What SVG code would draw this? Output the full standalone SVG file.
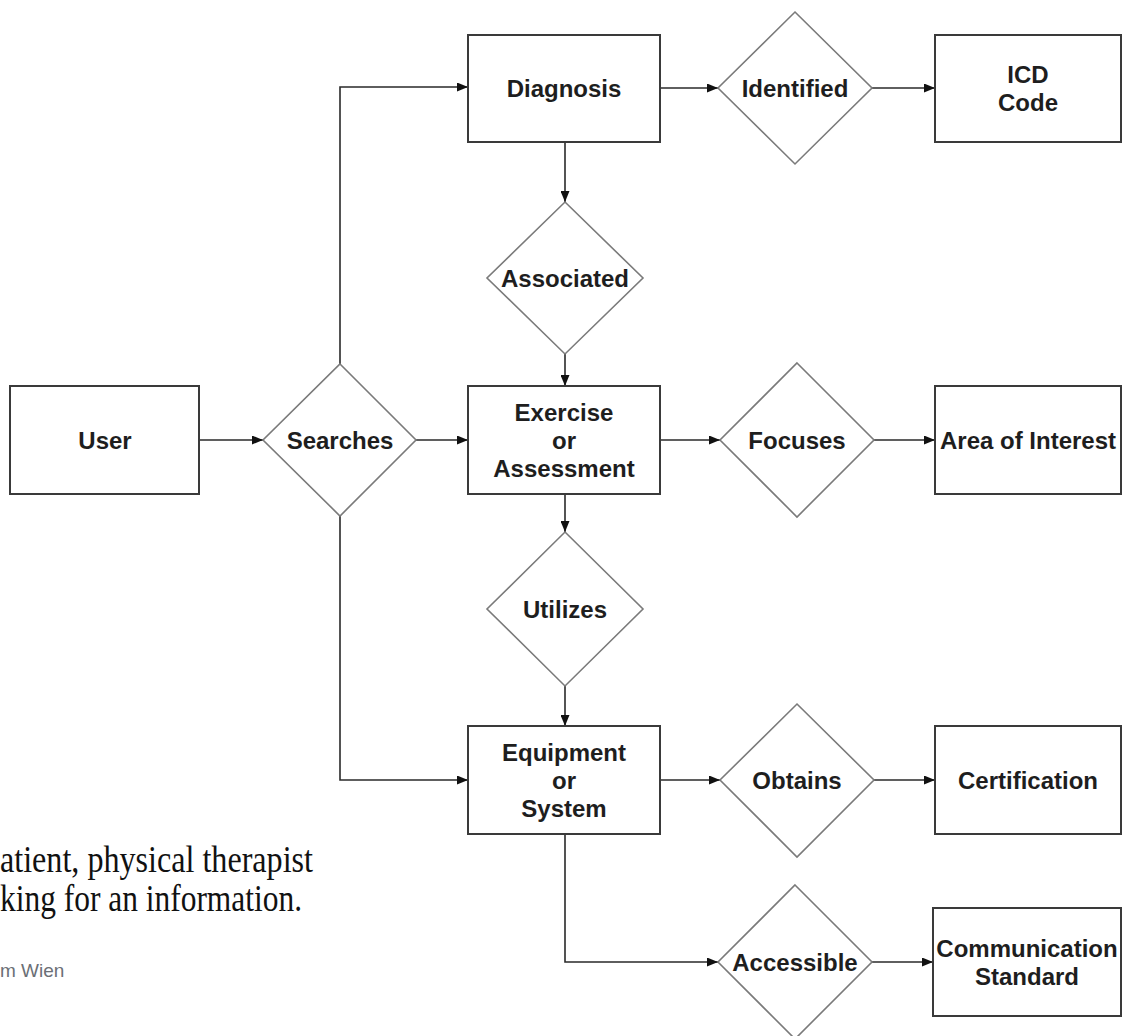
<svg xmlns="http://www.w3.org/2000/svg" width="1124" height="1036" viewBox="0 0 1124 1036">
<style>
.box{fill:#fff;stroke:#3a3a3a;stroke-width:2}
.dia{fill:#fff;stroke:#7a7a7a;stroke-width:1.6}
.lbl{font-family:"Liberation Sans",Arial,sans-serif;font-weight:bold;font-size:24px;fill:#1e1e1e;text-anchor:middle;dominant-baseline:central}
.edge{fill:none;stroke:#2a2a2a;stroke-width:1.6}
.cap{font-family:"Liberation Serif","Times New Roman",serif;font-size:37px;fill:#111}
.src{font-family:"Liberation Sans",Arial,sans-serif;font-size:19px;fill:#6b6f76}
</style>
<defs>
<marker id="arr" markerWidth="11" markerHeight="9" refX="11" refY="4.5" orient="auto" markerUnits="userSpaceOnUse">
<path d="M0,0 L11,4.5 L0,9 z" fill="#111"/>
</marker>
</defs>
<rect width="1124" height="1036" fill="#fff"/>

<g id="connectors">
<line class="edge" x1="199" y1="440" x2="263" y2="440" marker-end="url(#arr)"/>
<line class="edge" x1="416" y1="440" x2="468" y2="440" marker-end="url(#arr)"/>
<polyline class="edge" points="340,364 340,87 468,87" marker-end="url(#arr)"/>
<polyline class="edge" points="340,516 340,780 468,780" marker-end="url(#arr)"/>
<line class="edge" x1="660" y1="88" x2="718" y2="88" marker-end="url(#arr)"/>
<line class="edge" x1="872" y1="88" x2="935" y2="88" marker-end="url(#arr)"/>
<line class="edge" x1="565" y1="142" x2="565" y2="202" marker-end="url(#arr)"/>
<line class="edge" x1="565" y1="354" x2="565" y2="386" marker-end="url(#arr)"/>
<line class="edge" x1="660" y1="440" x2="720" y2="440" marker-end="url(#arr)"/>
<line class="edge" x1="874" y1="440" x2="935" y2="440" marker-end="url(#arr)"/>
<line class="edge" x1="565" y1="494" x2="565" y2="532" marker-end="url(#arr)"/>
<line class="edge" x1="565" y1="686" x2="565" y2="726" marker-end="url(#arr)"/>
<line class="edge" x1="660" y1="780" x2="720" y2="780" marker-end="url(#arr)"/>
<line class="edge" x1="874" y1="780" x2="935" y2="780" marker-end="url(#arr)"/>
<polyline class="edge" points="565,834 565,962 718,962" marker-end="url(#arr)"/>
<line class="edge" x1="872" y1="962" x2="933" y2="962" marker-end="url(#arr)"/>
</g>

<g id="user"><rect class="box" x="10" y="386" width="189" height="108"/><text class="lbl" x="105" y="440">User</text></g>
<g id="searches"><polygon class="dia" points="340,364 416,440 340,516 263,440"/><text class="lbl" x="340" y="440">Searches</text></g>
<g id="diagnosis"><rect class="box" x="468" y="35" width="192" height="107"/><text class="lbl" x="564" y="88">Diagnosis</text></g>
<g id="identified"><polygon class="dia" points="795,12 872,88 795,164 718,88"/><text class="lbl" x="795" y="88">Identified</text></g>
<g id="icd"><rect class="box" x="935" y="35" width="186" height="107"/><text class="lbl" x="1028" y="74">ICD</text><text class="lbl" x="1028" y="102">Code</text></g>
<g id="associated"><polygon class="dia" points="565,202 643,278 565,354 487,278"/><text class="lbl" x="565" y="278">Associated</text></g>
<g id="exercise"><rect class="box" x="468" y="386" width="192" height="108"/><text class="lbl" x="564" y="412">Exercise</text><text class="lbl" x="564" y="440">or</text><text class="lbl" x="564" y="468">Assessment</text></g>
<g id="focuses"><polygon class="dia" points="797,363 874,440 797,517 720,440"/><text class="lbl" x="797" y="440">Focuses</text></g>
<g id="area"><rect class="box" x="935" y="386" width="186" height="108"/><text class="lbl" x="1028" y="440">Area of Interest</text></g>
<g id="utilizes"><polygon class="dia" points="565,532 643,609 565,686 487,609"/><text class="lbl" x="565" y="609">Utilizes</text></g>
<g id="equipment"><rect class="box" x="468" y="726" width="192" height="108"/><text class="lbl" x="564" y="752">Equipment</text><text class="lbl" x="564" y="780">or</text><text class="lbl" x="564" y="808">System</text></g>
<g id="obtains"><polygon class="dia" points="797,704 874,780 797,857 720,780"/><text class="lbl" x="797" y="780">Obtains</text></g>
<g id="certification"><rect class="box" x="935" y="726" width="186" height="108"/><text class="lbl" x="1028" y="780">Certification</text></g>
<g id="accessible"><polygon class="dia" points="795,885 872,962 795,1039 718,962"/><text class="lbl" x="795" y="962">Accessible</text></g>
<g id="communication"><rect class="box" x="933" y="908" width="188" height="108"/><text class="lbl" x="1027" y="948">Communication</text><text class="lbl" x="1027" y="976">Standard</text></g>

<text class="cap" x="0" y="872" textLength="313" lengthAdjust="spacingAndGlyphs">atient, physical therapist</text>
<text class="cap" x="0" y="911" textLength="302" lengthAdjust="spacingAndGlyphs">king for an information.</text>
<text class="src" x="0" y="977">m Wien</text>
</svg>
